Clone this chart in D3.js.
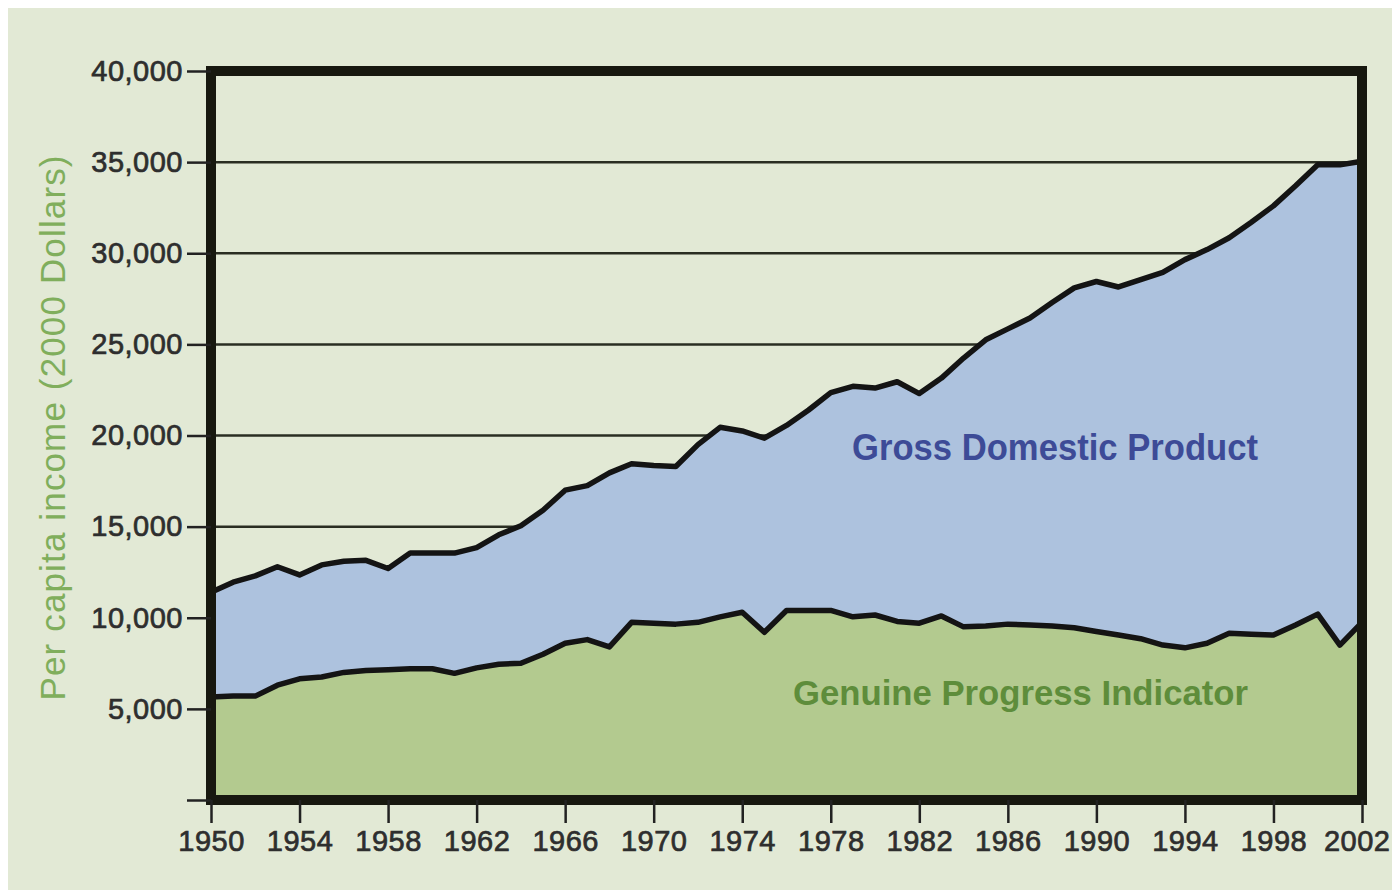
<!DOCTYPE html>
<html><head><meta charset="utf-8">
<script src="https://cdn.jsdelivr.net/npm/d3@7"></script>
<style>body{margin:0;background:#fff;} svg{display:block;}</style>
</head><body>
<svg id="chart" width="1392" height="890"></svg>
<script>
const years = [1950,1951,1952,1953,1954,1955,1956,1957,1958,1959,
  1960,1961,1962,1963,1964,1965,1966,1967,1968,1969,
  1970,1971,1972,1973,1974,1975,1976,1977,1978,1979,
  1980,1981,1982,1983,1984,1985,1986,1987,1988,1989,
  1990,1991,1992,1993,1994,1995,1996,1997,1998,1999,
  2000,2001,2002];
const gdp = [11400,11950,12300,12800,12350,12900,13100,13150,12700,13550,
  13550,13550,13850,14550,15050,15900,17000,17250,17950,18450,
  18350,18300,19500,20450,20250,19850,20550,21400,22350,22700,
  22600,22950,22300,23150,24250,25250,25850,26450,27300,28100,
  28450,28150,28550,28950,29650,30200,30850,31700,32600,33700,
  34850,34850,35050];
const gpi = [5650,5700,5700,6300,6650,6750,7000,7100,7150,7200,
  7200,6950,7250,7450,7500,8000,8600,8800,8400,9750,
  9700,9650,9750,10050,10300,9200,10400,10400,10400,10050,
  10150,9800,9700,10100,9500,9550,9650,9600,9550,9450,
  9250,9050,8850,8500,8350,8600,9150,9100,9050,9600,
  10200,8500,9750];
const yTicks = [0,5000,10000,15000,20000,25000,30000,35000,40000];
const xTicks = [1950,1954,1958,1962,1966,1970,1974,1978,1982,1986,1990,1994,1998,2002];
const seriesLabels = ["Gross Domestic Product","Genuine Progress Indicator"];
const yTitle = "Per capita income (2000 Dollars)";

const svg = d3.select("#chart");
const x = d3.scaleLinear().domain([1950,2002]).range([211,1362]);
const y = d3.scaleLinear().domain([0,40000]).range([800,71]);

svg.append("rect").attr("x",8).attr("y",8).attr("width",1384).attr("height",882).attr("fill","#e2e9d5");

// gridlines
svg.append("g").selectAll("line").data(yTicks.filter(d=>d>0 && d<40000)).join("line")
  .attr("x1",x(1950)).attr("x2",x(2002)).attr("y1",d=>y(d)).attr("y2",d=>y(d))
  .attr("stroke","#2a2e22").attr("stroke-width",2.5);

const data = years.map((yr,i)=>({yr, gdp:gdp[i], gpi:gpi[i]}));
svg.append("path").datum(data).attr("fill","#adc2de")
  .attr("d", d3.area().x(d=>x(d.yr)).y0(y(0)).y1(d=>y(d.gdp)));
svg.append("path").datum(data).attr("fill","#b3ca8f")
  .attr("d", d3.area().x(d=>x(d.yr)).y0(y(0)).y1(d=>y(d.gpi)));
svg.append("path").datum(data).attr("fill","none").attr("stroke","#141414").attr("stroke-width",5.5)
  .attr("stroke-linejoin","round").attr("d", d3.line().x(d=>x(d.yr)).y(d=>y(d.gdp)));
svg.append("path").datum(data).attr("fill","none").attr("stroke","#141414").attr("stroke-width",5.5)
  .attr("stroke-linejoin","round").attr("d", d3.line().x(d=>x(d.yr)).y(d=>y(d.gpi)));

// frame
svg.append("rect").attr("x",x(1950)).attr("y",y(40000)).attr("width",x(2002)-x(1950)).attr("height",y(0)-y(40000))
  .attr("fill","none").attr("stroke","#17180f").attr("stroke-width",10);

const fontAx = "'Liberation Sans', Arial, sans-serif";
const yAxis = svg.append("g").attr("transform",`translate(${x(1950)},0)`)
  .call(d3.axisLeft(y).tickValues(yTicks).tickSize(24).tickPadding(4)
    .tickFormat(d=> d===0 ? "" : d3.format(",")(d)));
yAxis.select(".domain").remove();
yAxis.selectAll("line").attr("stroke","#222").attr("stroke-width",2.5);
yAxis.selectAll("text").attr("font-family",fontAx).attr("font-size",29).attr("fill","#2e2e2e")
  .attr("stroke","#2e2e2e").attr("stroke-width",0.7).attr("letter-spacing",0.5);

const xAxis = svg.append("g").attr("transform",`translate(0,${y(0)})`)
  .call(d3.axisBottom(x).tickValues(xTicks).tickSize(23).tickPadding(7).tickFormat(d3.format("d")));
xAxis.select(".domain").remove();
xAxis.selectAll("line").attr("stroke","#222").attr("stroke-width",2.5);
xAxis.selectAll("text").attr("font-family",fontAx).attr("font-size",29).attr("fill","#2e2e2e")
  .attr("stroke","#2e2e2e").attr("stroke-width",0.7).attr("letter-spacing",0.5);
// keep the last year label inside the picture
xAxis.selectAll(".tick").filter(d=>d===2002).select("text")
  .attr("text-anchor","end").attr("x",28);

svg.append("text").attr("transform","translate(65,428) rotate(-90)").attr("text-anchor","middle")
  .attr("font-family",fontAx).attr("font-size",35).attr("fill","#80ae5c")
  .attr("textLength",545).attr("lengthAdjust","spacing").text(yTitle);

svg.append("text").attr("x",852).attr("y",460)
  .attr("font-family",fontAx).attr("font-weight","bold").attr("font-size",37).attr("fill","#3d4b97")
  .attr("textLength",406).attr("lengthAdjust","spacingAndGlyphs").text(seriesLabels[0]);
svg.append("text").attr("x",793).attr("y",705)
  .attr("font-family",fontAx).attr("font-weight","bold").attr("font-size",35).attr("fill","#5e8d3b")
  .attr("textLength",455).attr("lengthAdjust","spacingAndGlyphs").text(seriesLabels[1]);
</script>
</body></html>
